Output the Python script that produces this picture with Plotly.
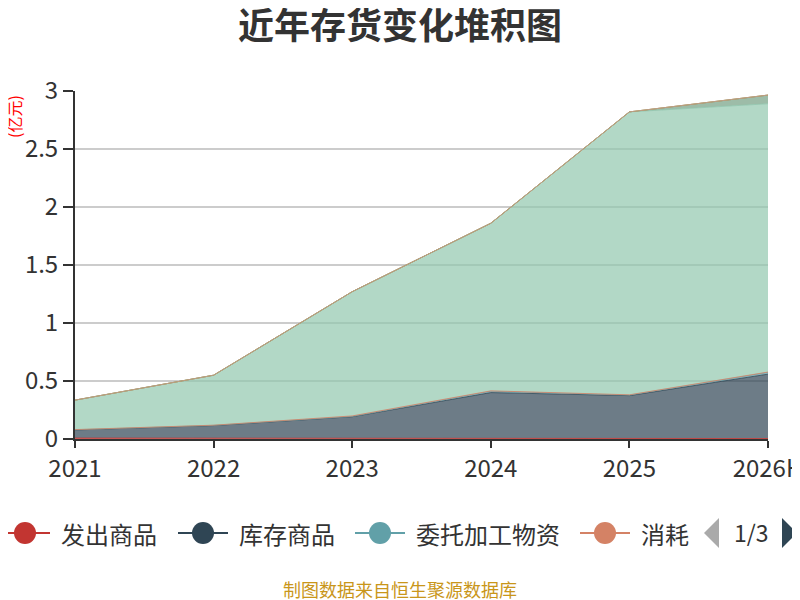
import plotly.graph_objects as go

# data (亿元)
years = ['2021', '2022', '2023', '2024', '2025', '2026H']
series_names = ['发出商品', '库存商品', '委托加工物资', '消耗性生物资产',
                '原材料', '在产品', '周转材料', '合同履约成本']
fachu = [0.008, 0.008, 0.007, 0.005, 0.004, 0.004]
kucun = [0.070, 0.108, 0.185, 0.395, 0.370, 0.555]
weituo = [0.002, 0.002, 0.003, 0.012, 0.005, 0.016]
xiaohao = [0.001, 0.001, 0.004, 0.003, 0.002, 0.002]
yuancailiao = [0.254, 0.431, 1.071, 1.445, 2.439, 2.313]
zaichanpin = [0.0, 0.0, 0.0, 0.0, 0.0, 0.075]
zhouzhuan = [0.0, 0.0, 0.0, 0.0, 0.0, 0.0]
hetong = [0.0, 0.0, 0.0, 0.0, 0.0, 0.0]
series_values = [fachu, kucun, weituo, xiaohao, yuancailiao, zaichanpin, zhouzhuan, hetong]
colors = ['#c23531', '#2f4554', '#61a0a8', '#d48265', '#91c7ae', '#749f83', '#ca8622', '#bda29a']
legend_page = '1/3'

# page body has an 8px margin, so the figure sits at (8, 8)
OFF = 8
W, H = 800, 600
L, R, T, B = 75, 32, 91, 161
FONT = 'Noto Sans CJK SC, Microsoft YaHei, sans-serif'


def rgba(hexc, a):
    h = hexc.lstrip('#')
    return 'rgba(%d,%d,%d,%s)' % (int(h[0:2], 16), int(h[2:4], 16), int(h[4:6], 16), a)


# window pixel -> paper coords of the plot area
def px(x):
    return (x - L) / (W - L - R)


def py(y):
    return (H - B - y) / (H - T - B)


fig = go.Figure()
for name, vals, c in zip(series_names, series_values, colors):
    fig.add_trace(go.Scatter(
        x=years, y=vals, name=name, mode='lines', stackgroup='one',
        line=dict(color=c, width=0.8), fillcolor=rgba(c, 0.7),
        showlegend=False, hoverinfo='x+y+name'))

# hand-built paged legend (first page only)
shapes = []
annots = []
leg_y = 533
for name, c, cx in zip(series_names[:4], colors[:4], [25, 203, 380, 605]):
    shapes.append(dict(type='line', xref='paper', yref='paper',
                       x0=px(cx - 25), x1=px(cx + 25), y0=py(leg_y), y1=py(leg_y),
                       line=dict(color=c, width=2)))
    shapes.append(dict(type='circle', xref='paper', yref='paper',
                       x0=px(cx - 11), x1=px(cx + 11), y0=py(leg_y - 11), y1=py(leg_y + 11),
                       fillcolor=c, line=dict(color=c, width=0)))
    label = name if len(name) <= 6 else name[:2]  # last item is clipped by the page edge
    annots.append(dict(text=label, x=px(cx + 34), y=py(leg_y), xref='paper', yref='paper',
                       xanchor='left', yanchor='middle', showarrow=False,
                       font=dict(size=24, color='#333', family=FONT)))

# page arrows
shapes.append(dict(type='path', xref='paper', yref='paper', line=dict(width=0),
                   fillcolor='#aaaaaa',
                   path='M %f %f L %f %f L %f %f Z' % (px(704), py(leg_y), px(719), py(leg_y - 15),
                                                        px(719), py(leg_y + 15))))
shapes.append(dict(type='path', xref='paper', yref='paper', line=dict(width=0),
                   fillcolor='#2f4554',
                   path='M %f %f L %f %f L %f %f Z' % (px(782), py(leg_y - 15), px(797), py(leg_y),
                                                        px(782), py(leg_y + 15))))
annots.append(dict(text=legend_page, x=px(751), y=py(leg_y - 1), xref='paper', yref='paper',
                   xanchor='center', yanchor='middle', showarrow=False,
                   font=dict(size=23, color='#333', family=FONT)))

# unit label
annots.append(dict(text='(亿元)', x=px(14), y=py(117), xref='paper', yref='paper',
                   textangle=-90, showarrow=False, xanchor='center', yanchor='middle',
                   font=dict(size=16, color='#ff0000', family=FONT)))
# source
annots.append(dict(text='制图数据来自恒生聚源数据库', x=px(400), y=py(589), xref='paper', yref='paper',
                   xanchor='center', yanchor='middle', showarrow=False,
                   font=dict(size=18, color='#c9961a', family=FONT)))

fig.update_layout(
    width=W - OFF, height=H - OFF,
    margin=dict(l=L - OFF, r=R, t=T - OFF, b=B, autoexpand=False),
    paper_bgcolor='white', plot_bgcolor='white',
    font=dict(family=FONT, color='#333'),
    title=dict(text='<b>近年存货变化堆积图</b>', x=(400 - OFF) / (W - OFF), xanchor='center',
               xref='container',
               y=1 - (26 - OFF) / (H - OFF), yanchor='middle',
               font=dict(size=36, color='#333', family=FONT)),
    shapes=shapes, annotations=annots,
    showlegend=False,
)
fig.update_xaxes(type='category', range=[0, len(years) - 1],
                 showgrid=False, showline=True, linecolor='#333', linewidth=2,
                 ticks='outside', ticklen=7, tickwidth=2, tickcolor='#333',
                 tickfont=dict(size=24, color='#333'), zeroline=False, fixedrange=True)
fig.update_yaxes(range=[0, 3], dtick=0.5, tickformat='~g',
                 showgrid=True, gridcolor='#cccccc', gridwidth=1.5,
                 showline=True, linecolor='#333', linewidth=2,
                 ticks='outside', ticklen=10, tickwidth=2, tickcolor='#333',
                 tickfont=dict(size=24, color='#333'), zeroline=False, fixedrange=True)

fig.write_html('out.html')
